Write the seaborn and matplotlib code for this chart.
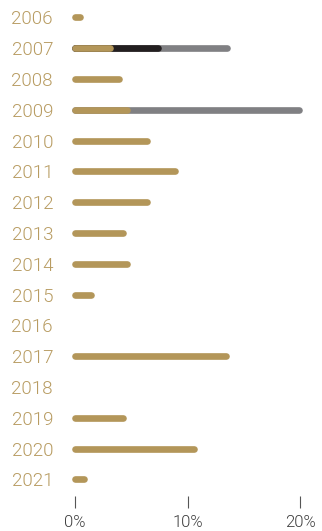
import numpy as np
import pandas as pd
import seaborn as sns
import matplotlib.pyplot as plt

years = [str(y) for y in range(2006, 2022)]
gold_vals = [0.4, 3.1, 3.9, 4.6, 6.4, 8.9, 6.4, 4.3, 4.6, 1.4, 0, 13.4, 0, 4.3, 10.6, 0.8]
black_vals = [0, 4.3, 0, 0, 0, 0, 0, 0, 0, 0, 0, 0, 0, 0, 0, 0]
gray_vals = [0, 6.1, 0, 15.3, 0, 0, 0, 0, 0, 0, 0, 0, 0, 0, 0, 0]
x_ticks = [0, 10, 20]
x_tick_labels = ["0%", "10%", "20%"]

GOLD = "#b39659"
BLACK = "#231f20"
GRAY = "#808083"
YEAR_COL = "#b89c62"
TICK_COL = "#3d3d3d"

sns.set_theme(style="white")
plt.rcParams["font.family"] = ["Roboto", "Liberation Sans", "DejaVu Sans"]

fig = plt.figure(figsize=(3.22, 5.31), dpi=100)
ax = fig.add_axes([69.4 / 322, 1 - 496 / 531, 252 / 322, (496 - 0.84) / 531])

df = pd.DataFrame({"year": years, "gold": gold_vals, "black": black_vals, "gray": gray_vals})
df["l_black"] = df["gold"] + df["black"]
df["l_total"] = df["l_black"] + df["gray"]

layers = [("l_total", "gray", GRAY), ("l_black", "black", BLACK), ("gold", "gold", GOLD)]
for col, seg, color in layers:
    n_before = len(ax.patches)
    sns.barplot(data=df, x=col, y="year", orient="h", color=color, width=0.001,
                saturation=1, errorbar=None, ax=ax)
    new_patches = ax.patches[n_before:]
    # turn each (very thin) bar into a capsule with round ends;
    # only draw a layer where its own segment is non-zero
    for p, segval in zip(new_patches, df[seg]):
        p.set_visible(False)
        w = p.get_width()
        if w <= 0 or segval <= 0:
            continue
        x0 = p.get_x()
        yc = p.get_y() + p.get_height() / 2
        ax.plot([x0, x0 + w], [yc, yc], color=color, lw=4.8,
                solid_capstyle="round", zorder=2)

ax.set_xlim(-0.5, 21.9)
ax.set_ylim(15.54, -0.54)
ax.set_xticks(x_ticks)
ax.set_xticklabels(x_tick_labels)
ax.set_xlabel("")
ax.set_ylabel("")
for s in ax.spines.values():
    s.set_visible(False)
ax.tick_params(axis="x", bottom=True, length=8.6, width=0.8, color="#555555", pad=5,
               labelsize=12, labelcolor=TICK_COL)
ax.tick_params(axis="y", left=False, length=0, pad=11.8, labelsize=13.5, labelcolor=YEAR_COL)
for t in ax.get_yticklabels() + ax.get_xticklabels():
    t.set_fontweight(300)
ax.grid(False)

fig.savefig("out.png", dpi=100, facecolor="white")
